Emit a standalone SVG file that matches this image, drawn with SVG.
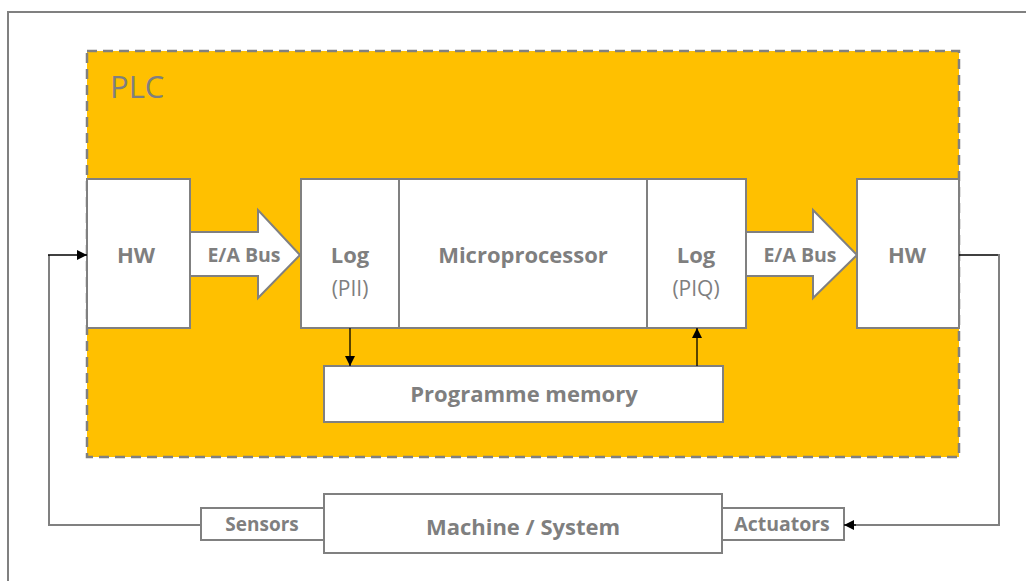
<svg xmlns="http://www.w3.org/2000/svg" width="1026" height="581" viewBox="0 0 1026 581">
<style>
.box{fill:#fff;stroke:#808080;stroke-width:2}
.t{font-family:"Open Sans","Liberation Sans",sans-serif;fill:#7f7f7f;text-anchor:middle}
.b{font-weight:bold}
.ln{fill:none;stroke:#808080;stroke-width:2}
.k{fill:none;stroke:#000;stroke-width:1.3}
</style>
<defs>
<marker id="ah" viewBox="0 0 10 10" refX="10" refY="5" markerWidth="10" markerHeight="10" markerUnits="userSpaceOnUse" orient="auto"><path d="M0,0 L10,5 L0,10 z" fill="#000"/></marker>
</defs>
<rect width="1026" height="581" fill="#fff"/>
<path d="M8,581 V12 H1026" fill="none" stroke="#808080" stroke-width="2"/>
<g id="plc">
<rect x="87" y="51" width="872" height="406" fill="#ffc000" stroke="#808080" stroke-width="2.5" stroke-dasharray="10,6"/>
<text class="t" x="110" y="98" font-size="31" style="text-anchor:start">PLC</text>
</g>
<g id="hw-in"><rect class="box" x="87" y="179" width="103" height="149"/><text class="t b" x="136" y="263" font-size="22">HW</text></g>
<g id="bus-in"><polygon class="box" points="190,232 258,232 258,210 300,255 258,298 258,276 190,276"/><text class="t b" x="244" y="262" font-size="19.5">E/A Bus</text></g>
<g id="log-pii"><rect class="box" x="301" y="179" width="98" height="149"/><text class="t b" x="350" y="263" font-size="22">Log</text><text class="t" x="350" y="296" font-size="21">(PII)</text></g>
<g id="micro"><rect class="box" x="399" y="179" width="248" height="149"/><text class="t b" x="523" y="263" font-size="22">Microprocessor</text></g>
<g id="log-piq"><rect class="box" x="647" y="179" width="99" height="149"/><text class="t b" x="696" y="263" font-size="22">Log</text><text class="t" x="696" y="296" font-size="21">(PIQ)</text></g>
<g id="bus-out"><polygon class="box" points="746,232 813,232 813,210 857,255 813,298 813,276 746,276"/><text class="t b" x="800" y="262" font-size="19.5">E/A Bus</text></g>
<g id="hw-out"><rect class="box" x="857" y="179" width="102" height="149"/><text class="t b" x="907" y="263" font-size="22">HW</text></g>
<g id="progmem"><rect class="box" x="324" y="366" width="399" height="56"/><text class="t b" x="524" y="402" font-size="22">Programme memory</text></g>
<g id="machine"><rect class="box" x="324" y="494" width="398" height="59"/><text class="t b" x="523" y="535" font-size="22">Machine / System</text></g>
<g id="sensors"><rect class="box" x="201" y="508" width="123" height="32"/><text class="t b" x="262" y="531" font-size="19">Sensors</text></g>
<g id="actuators"><rect class="box" x="722" y="508" width="122" height="32"/><text class="t b" x="782" y="531" font-size="19.5">Actuators</text></g>
<g id="connectors">
<line class="k" x1="350" y1="328" x2="350" y2="366" marker-end="url(#ah)"/>
<line class="k" x1="697" y1="366" x2="697" y2="328" marker-end="url(#ah)"/>
<polyline class="ln" points="201,525 49,525 49,255"/>
<line class="k" x1="48" y1="255" x2="87" y2="255" marker-end="url(#ah)"/>
<line class="k" x1="959" y1="255" x2="999" y2="255"/>
<polyline class="ln" points="999,254 999,525 852,525"/>
<line class="k" x1="856" y1="525" x2="844" y2="525" marker-end="url(#ah)"/>
</g>
</svg>
